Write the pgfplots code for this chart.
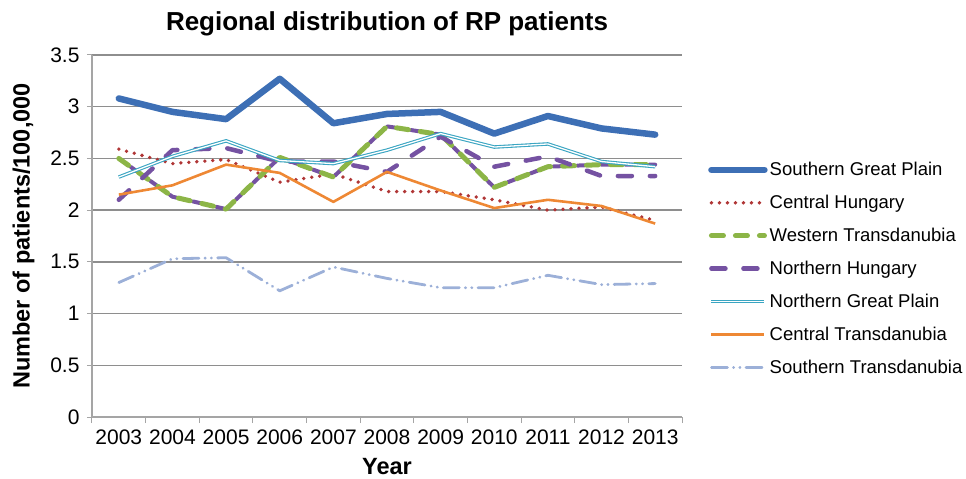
\documentclass[border=0pt]{standalone}
\usepackage{fontspec}
\setmainfont{Liberation Sans}
\usepackage{pgfplots}
\usepackage{pgfplotstable}
\pgfplotsset{compat=1.18}
\definecolor{sgp}{HTML}{3D6FB5}
\definecolor{ch}{HTML}{B03636}
\definecolor{wt}{HTML}{8CB547}
\definecolor{nh}{HTML}{7552A2}
\definecolor{ngp}{HTML}{3AA5C2}
\definecolor{ct}{HTML}{EE8834}
\definecolor{st}{HTML}{9CB0D8}
\definecolor{gridc}{HTML}{8E8E8E}
\pgfplotstableread{
x y
0 2.50
1 2.13
2 2.01
3 2.51
4 2.32
5 2.81
6 2.73
7 2.22
8 2.42
9 2.44
10 2.44
}\wtdata
\begin{document}
\begin{tikzpicture}
\useasboundingbox (-92bp,-62bp) rectangle (874bp,417bp);
\begin{axis}[
  at={(0,0)}, anchor=south west,
  scale only axis, width=590bp, height=362bp,
  xmin=-0.5, xmax=10.5, ymin=0, ymax=3.5,
  axis x line*=bottom, axis y line*=left,
  axis line style={-, draw=gridc!80, line width=1.2bp},
  xtick={0,...,10},
  xticklabels={2003,2004,2005,2006,2007,2008,2009,2010,2011,2012,2013},
  minor xtick={-0.5,0.5,...,10.5},
  major x tick style={draw=none},
  minor tick length=6bp,
  minor x tick style={draw=gridc!80, line width=1bp},
  ytick={0,0.5,...,3.5},
  ymajorgrids,
  major grid style={draw=gridc, line width=1.3bp},
  major tick length=5bp,
  y tick style={draw=gridc!80, line width=1bp},
  tick align=outside,
  /pgf/number format/assume math mode=true,
  ticklabel style={font=\fontsize{21bp}{24bp}\selectfont, text=black},
  xticklabel style={yshift=-4bp},
  yticklabel style={xshift=-4bp},
  title={Regional distribution of RP patients},
  title style={font=\bfseries\fontsize{26bp}{30bp}\selectfont, at={(0.5,1)}, anchor=base, yshift=19bp},
  ylabel={Number of patients/100,000},
  ylabel style={font=\bfseries\fontsize{23.5bp}{27bp}\selectfont, at={(axis description cs:-0.116,0.5)}, anchor=center},
  xlabel={Year},
  xlabel style={font=\bfseries\fontsize{23.5bp}{27bp}\selectfont, at={(axis description cs:0.5,-0.138)}, anchor=center},
  legend style={at={(1.039,0.41)}, anchor=west, draw=none, fill=none,
    font=\fontsize{18.5bp}{22bp}\selectfont, row sep=14bp,
    nodes={inner xsep=2bp}},
  legend cell align=left,
  legend image code/.code={\draw[#1] (2bp,0bp) -- (55bp,0bp);},
  every axis plot/.append style={line join=round},
]
\addplot[sgp, line width=6.5bp, line cap=round] coordinates {
(0,3.08) (1,2.95) (2,2.88) (3,3.27) (4,2.84) (5,2.93) (6,2.95) (7,2.74) (8,2.91) (9,2.79) (10,2.73)};
\addlegendentry{Southern Great Plain}
\addplot[ch, line width=3.8bp, line cap=round, dash pattern=on 0bp off 8bp] coordinates {
(0,2.59) (1,2.45) (2,2.49) (3,2.27) (4,2.35) (5,2.18) (6,2.18) (7,2.10) (8,2.00) (9,2.03) (10,1.90)};
\addlegendentry{Central Hungary}
\addplot[nh, line width=4bp, line cap=round, dash pattern=on 7bp off 17bp, dash phase=-15bp, forget plot] table[x=x, y=y] {\wtdata};
\addplot[wt, line width=5bp, line cap=round, dash pattern=on 12bp off 12bp] table[x=x, y=y] {\wtdata};
\addlegendentry{Western Transdanubia}
\addplot[nh, line width=4.5bp, line cap=round, dash pattern=on 14bp off 18bp] coordinates {
(0,2.10) (1,2.58) (2,2.60) (3,2.47) (4,2.47) (5,2.37) (6,2.71) (7,2.42) (8,2.52) (9,2.33) (10,2.33)};
\addlegendentry{Northern Hungary}
\addplot[ngp, line width=1.1bp, double=white, double distance=1.3bp] coordinates {
(0,2.32) (1,2.52) (2,2.67) (3,2.48) (4,2.45) (5,2.58) (6,2.74) (7,2.61) (8,2.64) (9,2.47) (10,2.42)};
\addlegendentry{Northern Great Plain}
\addplot[ct, line width=2.6bp] coordinates {
(0,2.15) (1,2.24) (2,2.44) (3,2.36) (4,2.08) (5,2.37) (6,2.19) (7,2.02) (8,2.10) (9,2.04) (10,1.87)};
\addlegendentry{Central Transdanubia}
\addplot[st, line width=2.8bp, line cap=round, dash pattern=on 16bp off 6bp on 0.3bp off 6bp on 0.3bp off 6bp] coordinates {
(0,1.30) (1,1.53) (2,1.54) (3,1.22) (4,1.45) (5,1.34) (6,1.25) (7,1.25) (8,1.37) (9,1.28) (10,1.29)};
\addlegendentry{Southern Transdanubia}
\end{axis}
\end{tikzpicture}
\end{document}
